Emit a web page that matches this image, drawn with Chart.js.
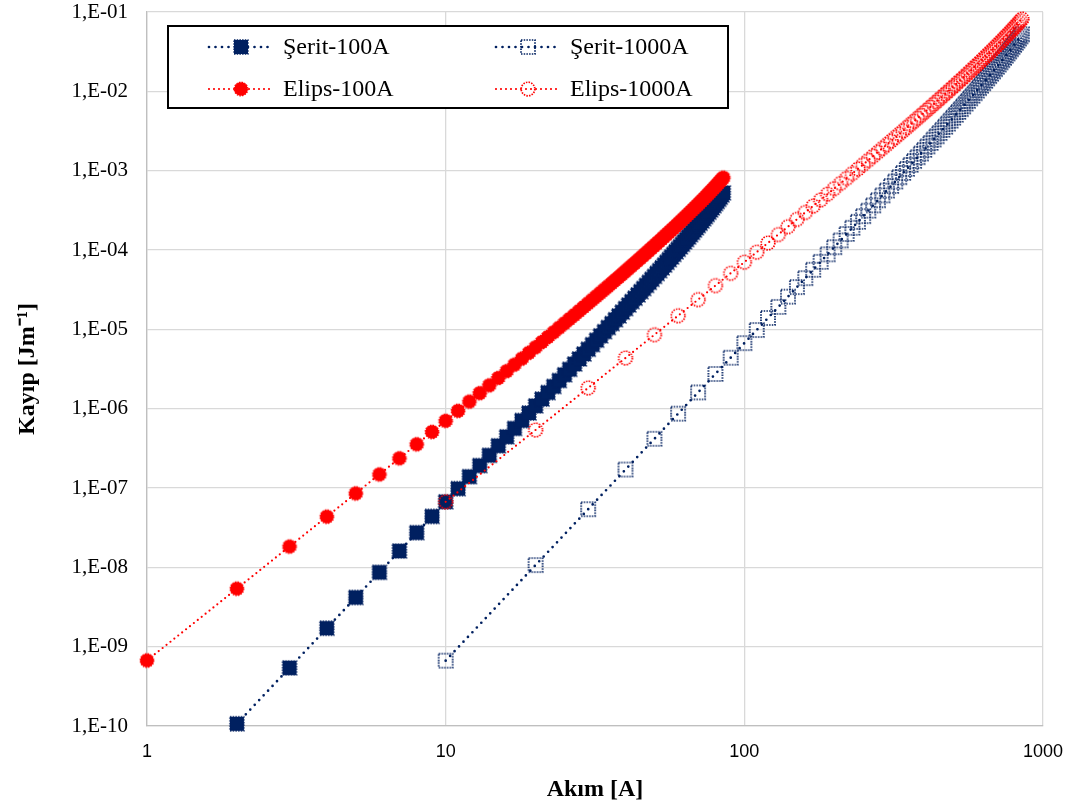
<!DOCTYPE html>
<html lang="tr">
<head>
<meta charset="utf-8">
<title>Kayıp - Akım</title>
<script src="https://cdn.jsdelivr.net/npm/chart.js@4.4.1/dist/chart.umd.min.js"></script>
<style>
  html, body { margin: 0; padding: 0; background: #fff; }
  #grafico { display: block; }
</style>
</head>
<body>
<canvas id="grafico" width="1073" height="810"></canvas>
<script>
// akım değerleri [A]
const akim100 = [1, 2, 3, 4, 5, 6, 7, 8, 9, 10, 11, 12, 13, 14, 15, 16, 17, 18, 19, 20,
  21, 22, 23, 24, 25, 26, 27, 28, 29, 30, 31, 32, 33, 34, 35, 36, 37, 38, 39, 40,
  41, 42, 43, 44, 45, 46, 47, 48, 49, 50, 51, 52, 53, 54, 55, 56, 57, 58, 59, 60,
  61, 62, 63, 64, 65, 66, 67, 68, 69, 70, 71, 72, 73, 74, 75, 76, 77, 78, 79, 80,
  81, 82, 83, 84, 85];
const akim1000 = [10, 20, 30, 40, 50, 60, 70, 80, 90, 100, 110, 120, 130, 140, 150, 160, 170, 180, 190, 200,
  210, 220, 230, 240, 250, 260, 270, 280, 290, 300, 310, 320, 330, 340, 350, 360, 370, 380, 390, 400,
  410, 420, 430, 440, 450, 460, 470, 480, 490, 500, 510, 520, 530, 540, 550, 560, 570, 580, 590, 600,
  610, 620, 630, 640, 650, 660, 670, 680, 690, 700, 710, 720, 730, 740, 750, 760, 770, 780, 790, 800,
  810, 820, 830, 840, 850];

// kayıp değerleri [J/m]
const seritKayip100 = [null, 1.067e-10, 5.402e-10, 1.708e-9, 4.171e-9, 8.652e-9, 1.604e-8, 2.738e-8, 4.388e-8, 6.693e-8,
  9.808e-8, 1.390e-7, 1.917e-7, 2.581e-7, 3.406e-7, 4.414e-7, 5.633e-7, 7.091e-7, 8.816e-7, 1.084e-6,
  1.320e-6, 1.593e-6, 1.906e-6, 2.264e-6, 2.672e-6, 3.132e-6, 3.650e-6, 4.232e-6, 4.881e-6, 5.604e-6,
  6.406e-6, 7.294e-6, 8.272e-6, 9.348e-6, 1.053e-5, 1.182e-5, 1.323e-5, 1.477e-5, 1.645e-5, 1.826e-5,
  2.023e-5, 2.236e-5, 2.467e-5, 2.715e-5, 2.983e-5, 3.271e-5, 3.580e-5, 3.912e-5, 4.268e-5, 4.650e-5,
  5.058e-5, 5.494e-5, 5.960e-5, 6.457e-5, 6.987e-5, 7.551e-5, 8.153e-5, 8.792e-5, 9.473e-5, 1.020e-4,
  1.096e-4, 1.178e-4, 1.264e-4, 1.356e-4, 1.454e-4, 1.557e-4, 1.666e-4, 1.782e-4, 1.905e-4, 2.035e-4,
  2.173e-4, 2.319e-4, 2.473e-4, 2.637e-4, 2.810e-4, 2.994e-4, 3.188e-4, 3.395e-4, 3.613e-4, 3.845e-4,
  4.091e-4, 4.353e-4, 4.631e-4, 4.926e-4, 5.241e-4];
const elipsKayip100 = [6.700e-10, 5.387e-9, 1.828e-8, 4.354e-8, 8.548e-8, 1.485e-7, 2.370e-7, 3.557e-7, 5.091e-7, 7.021e-7,
  9.396e-7, 1.227e-6, 1.568e-6, 1.969e-6, 2.436e-6, 2.973e-6, 3.586e-6, 4.281e-6, 5.064e-6, 5.941e-6,
  6.917e-6, 8.001e-6, 9.197e-6, 1.051e-5, 1.195e-5, 1.353e-5, 1.524e-5, 1.711e-5, 1.913e-5, 2.131e-5,
  2.366e-5, 2.620e-5, 2.892e-5, 3.184e-5, 3.496e-5, 3.831e-5, 4.187e-5, 4.567e-5, 4.972e-5, 5.402e-5,
  5.859e-5, 6.343e-5, 6.857e-5, 7.401e-5, 7.976e-5, 8.584e-5, 9.226e-5, 9.903e-5, 1.062e-4, 1.137e-4,
  1.216e-4, 1.300e-4, 1.388e-4, 1.480e-4, 1.577e-4, 1.679e-4, 1.786e-4, 1.898e-4, 2.016e-4, 2.139e-4,
  2.269e-4, 2.405e-4, 2.547e-4, 2.696e-4, 2.852e-4, 3.016e-4, 3.188e-4, 3.367e-4, 3.555e-4, 3.752e-4,
  3.959e-4, 4.175e-4, 4.401e-4, 4.638e-4, 4.887e-4, 5.148e-4, 5.421e-4, 5.708e-4, 6.009e-4, 6.325e-4,
  6.656e-4, 7.005e-4, 7.373e-4, 7.759e-4, 8.167e-4];
const seritKayip1000 = [6.667e-10, 1.067e-8, 5.402e-8, 1.708e-7, 4.171e-7, 8.652e-7, 1.604e-6, 2.738e-6, 4.388e-6, 6.693e-6,
  9.808e-6, 1.390e-5, 1.917e-5, 2.581e-5, 3.406e-5, 4.414e-5, 5.633e-5, 7.091e-5, 8.816e-5, 1.084e-4,
  1.320e-4, 1.593e-4, 1.906e-4, 2.264e-4, 2.672e-4, 3.132e-4, 3.650e-4, 4.232e-4, 4.881e-4, 5.604e-4,
  6.406e-4, 7.294e-4, 8.272e-4, 9.348e-4, 1.053e-3, 1.182e-3, 1.323e-3, 1.477e-3, 1.645e-3, 1.826e-3,
  2.023e-3, 2.236e-3, 2.467e-3, 2.715e-3, 2.983e-3, 3.271e-3, 3.580e-3, 3.912e-3, 4.268e-3, 4.650e-3,
  5.058e-3, 5.494e-3, 5.960e-3, 6.457e-3, 6.987e-3, 7.551e-3, 8.153e-3, 8.792e-3, 9.473e-3, 1.020e-2,
  1.096e-2, 1.178e-2, 1.264e-2, 1.356e-2, 1.454e-2, 1.557e-2, 1.666e-2, 1.782e-2, 1.905e-2, 2.035e-2,
  2.173e-2, 2.319e-2, 2.473e-2, 2.637e-2, 2.810e-2, 2.994e-2, 3.188e-2, 3.395e-2, 3.613e-2, 3.845e-2,
  4.091e-2, 4.353e-2, 4.631e-2, 4.926e-2, 5.241e-2];
const elipsKayip1000 = [6.700e-8, 5.387e-7, 1.828e-6, 4.354e-6, 8.548e-6, 1.485e-5, 2.370e-5, 3.557e-5, 5.091e-5, 7.021e-5,
  9.396e-5, 1.227e-4, 1.568e-4, 1.969e-4, 2.436e-4, 2.973e-4, 3.586e-4, 4.281e-4, 5.064e-4, 5.941e-4,
  6.917e-4, 8.001e-4, 9.197e-4, 1.051e-3, 1.195e-3, 1.353e-3, 1.524e-3, 1.711e-3, 1.913e-3, 2.131e-3,
  2.366e-3, 2.620e-3, 2.892e-3, 3.184e-3, 3.496e-3, 3.831e-3, 4.187e-3, 4.567e-3, 4.972e-3, 5.402e-3,
  5.859e-3, 6.343e-3, 6.857e-3, 7.401e-3, 7.976e-3, 8.584e-3, 9.226e-3, 9.903e-3, 1.062e-2, 1.137e-2,
  1.216e-2, 1.300e-2, 1.388e-2, 1.480e-2, 1.577e-2, 1.679e-2, 1.786e-2, 1.898e-2, 2.016e-2, 2.139e-2,
  2.269e-2, 2.405e-2, 2.547e-2, 2.696e-2, 2.852e-2, 3.016e-2, 3.188e-2, 3.367e-2, 3.555e-2, 3.752e-2,
  3.959e-2, 4.175e-2, 4.401e-2, 4.638e-2, 4.887e-2, 5.148e-2, 5.421e-2, 5.708e-2, 6.009e-2, 6.325e-2,
  6.656e-2, 7.005e-2, 7.373e-2, 7.759e-2, 8.167e-2];

const xTickValues = [1, 10, 100, 1000];
const xTickLabels = ['1', '10', '100', '1000'];
const yTickValues = [1e-10, 1e-9, 1e-8, 1e-7, 1e-6, 1e-5, 1e-4, 1e-3, 1e-2, 1e-1];
const yTickLabels = ['1,E-10', '1,E-09', '1,E-08', '1,E-07', '1,E-06', '1,E-05', '1,E-04', '1,E-03', '1,E-02', '1,E-01'];

const lacivert = '#002060';
const kirmizi = '#FF0000';
const serif = "'Liberation Serif', 'Times New Roman', serif";
const sans = "'Liberation Sans', Arial, sans-serif";

// noktalı kenarlı işaretçi çizimi
function criarMarcador(forma, cor, preenchido) {
    const c = document.createElement('canvas');
    c.width = 18;
    c.height = 18;
    const g = c.getContext('2d');
    g.strokeStyle = cor;
    g.fillStyle = cor;
    g.lineWidth = preenchido ? 1.3 : 1.7;
    g.setLineDash([1.5, 1.2]);
    g.beginPath();
    if (forma === 'kare') {
        g.rect(2, 2, 14, 14);
    } else {
        g.arc(9, 9, 6.8, 0, 2 * Math.PI);
    }
    if (preenchido) g.fill();
    g.stroke();
    return c;
}

function pontos(xs, ys) {
    return xs.map((x, i) => ({ x: x, y: ys[i] }));
}

function serie(rotulo, xs, ys, cor, marcador, ordem, kesik, kalinlik) {
    return {
        label: rotulo,
        data: pontos(xs, ys),
        borderColor: cor,
        backgroundColor: cor,
        borderWidth: kalinlik,
        borderDash: kesik,
        borderCapStyle: 'round',
        pointStyle: marcador,
        pointRadius: 7,
        pointHoverRadius: 7,
        tension: 0,
        clip: false,
        order: ordem
    };
}

const datasets = [
    serie('Şerit-100A', akim100, seritKayip100, lacivert, criarMarcador('kare', lacivert, true), 4, [0, 6.5], 2.7),
    serie('Şerit-1000A', akim1000, seritKayip1000, lacivert, criarMarcador('kare', lacivert, false), 3, [0, 6.5], 2.7),
    serie('Elips-100A', akim100, elipsKayip100, kirmizi, criarMarcador('daire', kirmizi, true), 2, [0, 5], 2.2),
    serie('Elips-1000A', akim1000, elipsKayip1000, kirmizi, criarMarcador('daire', kirmizi, false), 1, [0, 5], 2.2)
];

// grafik içindeki çerçeveli açıklama kutusu
const kutuAciklama = {
    id: 'kutuAciklama',
    afterDraw(chart) {
        const ctx = chart.ctx;
        const kutu = { x: 168, y: 26, w: 560, h: 82 };
        const yerler = [
            { x: 209, y: 47 }, { x: 496, y: 47 },
            { x: 209, y: 89 }, { x: 496, y: 89 }
        ];
        ctx.save();
        ctx.fillStyle = '#fff';
        ctx.fillRect(kutu.x, kutu.y, kutu.w, kutu.h);
        ctx.strokeStyle = '#000';
        ctx.lineWidth = 2;
        ctx.strokeRect(kutu.x, kutu.y, kutu.w, kutu.h);

        chart.data.datasets.forEach((ds, i) => {
            const p = yerler[i];
            ctx.beginPath();
            ctx.strokeStyle = ds.borderColor;
            ctx.lineWidth = ds.borderWidth;
            ctx.lineCap = 'round';
            ctx.setLineDash(ds.borderDash);
            ctx.moveTo(p.x, p.y);
            ctx.lineTo(p.x + 64, p.y);
            ctx.stroke();
            ctx.setLineDash([]);
            const m = ds.pointStyle;
            ctx.drawImage(m, p.x + 32 - m.width / 2, p.y - m.height / 2);
            ctx.fillStyle = '#000';
            ctx.font = '24px ' + serif;
            ctx.textBaseline = 'middle';
            ctx.textAlign = 'left';
            ctx.fillText(ds.label, p.x + 74, p.y + 1);
        });
        ctx.restore();
    }
};

new Chart(document.getElementById('grafico'), {
    type: 'line',
    data: { datasets: datasets },
    options: {
        responsive: false,
        animation: false,
        layout: { padding: { top: 12, right: 30, left: 0, bottom: 0 } },
        plugins: {
            legend: { display: false },
            tooltip: { enabled: false }
        },
        scales: {
            x: {
                type: 'logarithmic',
                min: 1,
                max: 1000,
                afterBuildTicks: (eixo) => { eixo.ticks = xTickValues.map(v => ({ value: v })); },
                afterFit: (eixo) => { eixo.height = 84; eixo.paddingLeft = 0; eixo.paddingRight = 0; },
                ticks: {
                    autoSkip: false,
                    maxRotation: 0,
                    padding: 15,
                    color: '#000',
                    font: { size: 18, family: sans },
                    callback: (valor, indice) => xTickLabels[indice]
                },
                grid: { color: '#D9D9D9', lineWidth: 1.3, drawTicks: false },
                border: { color: '#BFBFBF', width: 1.3 },
                title: {
                    display: true,
                    text: 'Akım [A]',
                    color: '#000',
                    font: { size: 24, weight: 'bold', family: serif },
                    padding: { top: 0, bottom: 6 }
                }
            },
            y: {
                type: 'logarithmic',
                min: 1e-10,
                max: 1e-1,
                afterBuildTicks: (eixo) => { eixo.ticks = yTickValues.map(v => ({ value: v })); },
                afterFit: (eixo) => { eixo.width = 147; eixo.paddingTop = 0; eixo.paddingBottom = 0; },
                ticks: {
                    autoSkip: false,
                    padding: 19,
                    color: '#000',
                    font: { size: 21, family: serif },
                    callback: (valor, indice) => yTickLabels[indice]
                },
                grid: { color: '#D9D9D9', lineWidth: 1.3, drawTicks: false },
                border: { color: '#BFBFBF', width: 1.3 },
                title: {
                    display: true,
                    text: 'Kayıp [Jm⁻¹]',
                    color: '#000',
                    font: { size: 24, weight: 'bold', family: serif },
                    padding: { top: 13, bottom: 0 }
                }
            }
        }
    },
    plugins: [kutuAciklama]
});
</script>
</body>
</html>
